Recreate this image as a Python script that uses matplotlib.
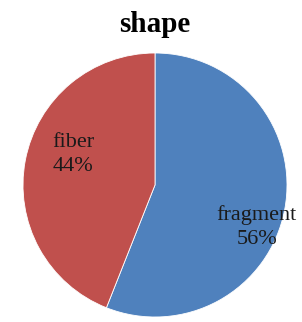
import matplotlib
matplotlib.use("Agg")
import matplotlib.pyplot as plt

# data
categories = ["fragment", "fiber"]
shares = [56, 44]
colors = ["#4F81BD", "#C0504D"]

plt.rcParams['font.family'] = ['Liberation Serif', 'DejaVu Serif']

W, H = 302, 322
fig = plt.figure(figsize=(W / 100, H / 100), dpi=100)

# circle centre and radius in pixels
cx, cy, r = 155, 185, 132
ax = fig.add_axes([(cx - r) / W, (H - cy - r) / H, 2 * r / W, 2 * r / H])
ax.pie(shares, colors=colors, startangle=90, counterclock=False,
       wedgeprops=dict(edgecolor="white", linewidth=0.6))
ax.set_xlim(-1, 1)
ax.set_ylim(-1, 1)
ax.set_aspect("equal")
ax.axis("off")

# label positions (data coords, unit circle)
label_pos = [(0.77, -0.32), (-0.62, 0.23)]
for name, val, (x, y) in zip(categories, shares, label_pos):
    ax.text(x, y, f"{name}\n{val}%", ha="center", va="center",
            fontsize=16, color="#1a1a1a", linespacing=1.35)

fig.text(cx / W, 1 - 24 / H, "shape", ha="center", va="center",
         fontsize=21, fontweight="bold")

fig.savefig("out.png", dpi=100)
